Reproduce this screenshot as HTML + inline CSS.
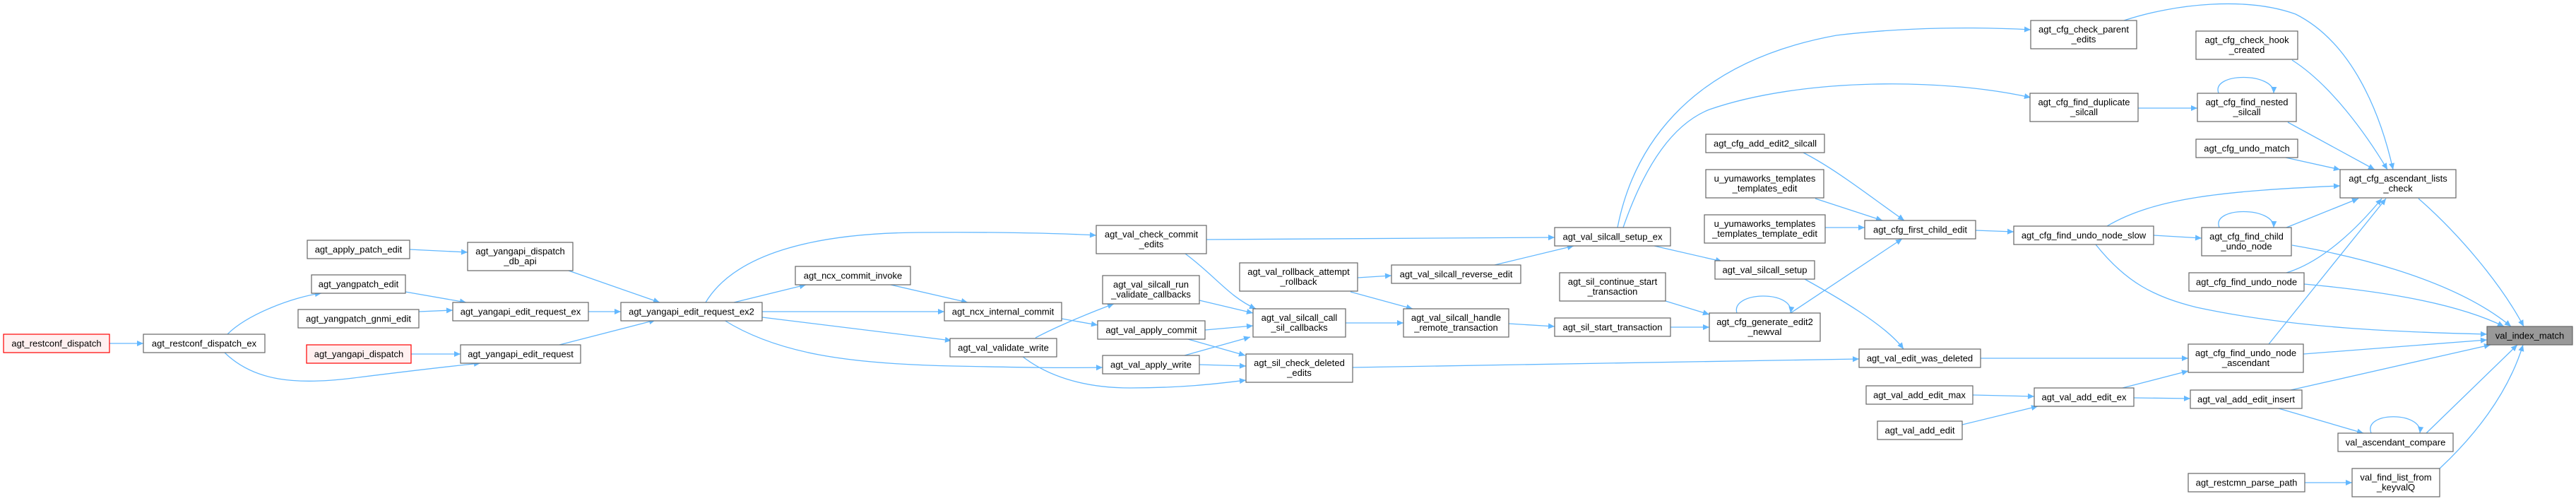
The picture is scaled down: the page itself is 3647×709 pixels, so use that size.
<!DOCTYPE html>
<html><head><meta charset="utf-8"><style>
html,body{margin:0;padding:0;background:#fff;}
svg{display:block;}
text{font-family:"Liberation Sans",Arial,sans-serif;font-size:13px;fill:#000;text-anchor:middle;}
.n{fill:#fff;stroke:#666;stroke-width:1.2;}
.r{fill:#fff0f0;stroke:#f00;stroke-width:1.2;}
.g{fill:#999;stroke:#666;stroke-width:1.2;}
path.e{fill:none;stroke:#63b8ff;stroke-width:1.3;marker-end:url(#a);}
</style></head><body>
<svg width="3647" height="709" viewBox="0 0 3647 709" xmlns="http://www.w3.org/2000/svg">
<defs><marker id="a" viewBox="0 0 10 10" refX="10" refY="5" markerWidth="11" markerHeight="9" markerUnits="userSpaceOnUse" orient="auto"><path d="M0,0.5 L10,5 L0,9.5 z" fill="#63b8ff"/></marker></defs>
<g>
<path class="e" d="M155,486 L203,486"/>
<path class="e" d="M322,473 C350,445 415,420 455,415"/>
<path class="e" d="M318,499 C360,540 420,545 500,535 C580,525 640,518 680,514"/>
<path class="e" d="M580,353 L662,357"/>
<path class="e" d="M574,413 L660,428"/>
<path class="e" d="M593,441 L641,439"/>
<path class="e" d="M582,501 L652,501"/>
<path class="e" d="M805,383 L934,428"/>
<path class="e" d="M833,441 L879,441"/>
<path class="e" d="M792,488 L928,453"/>
<path class="e" d="M1039,428 L1141,403"/>
<path class="e" d="M1079,441 L1337,441"/>
<path class="e" d="M999,428 C1040,360 1150,330 1300,329 C1400,328 1500,330 1552,333"/>
<path class="e" d="M1079,449 L1347,482"/>
<path class="e" d="M1025,453 C1100,500 1200,515 1350,518 C1450,520 1500,521 1561,520"/>
<path class="e" d="M1261,403 L1370,428"/>
<path class="e" d="M1503,451 L1554,460"/>
<path class="e" d="M1466,478 C1500,460 1550,440 1577,430"/>
<path class="e" d="M1447,504 C1480,530 1530,549 1600,549 C1680,549 1730,542 1764,538"/>
<path class="e" d="M1708,339 L2201,336"/>
<path class="e" d="M1678,359 C1720,390 1740,420 1778,437"/>
<path class="e" d="M1698,425 L1774,443"/>
<path class="e" d="M1706,467 L1774,461"/>
<path class="e" d="M1682,480 L1763,503"/>
<path class="e" d="M1677,503 L1770,477"/>
<path class="e" d="M1698,516 L1764,518"/>
<path class="e" d="M1922,393 L1970,390"/>
<path class="e" d="M1912,413 L2000,437"/>
<path class="e" d="M1905,457 L1987,457"/>
<path class="e" d="M2116,375 L2228,348"/>
<path class="e" d="M2136,458 L2201,462"/>
<path class="e" d="M1915,520 L2632,508"/>
<path class="e" d="M2290,322 C2310,220 2380,90 2600,50 C2700,38 2800,38 2875,42"/>
<path class="e" d="M2298,322 C2330,230 2370,175 2420,155 C2550,110 2750,110 2875,138"/>
<path class="e" d="M2342,348 L2438,370"/>
<path class="e" d="M2358,426 L2420,445"/>
<path class="e" d="M2365,463 L2420,463"/>
<path class="e" d="M2459,443 C2450,412 2540,410 2535,443"/>
<path class="e" d="M2535,443 L2693,338"/>
<path class="e" d="M2555,395 C2600,420 2670,460 2695,494"/>
<path class="e" d="M2553,216 C2600,240 2650,280 2696,312"/>
<path class="e" d="M2570,281 L2665,312"/>
<path class="e" d="M2584,322 L2640,322"/>
<path class="e" d="M2797,326 L2851,328"/>
<path class="e" d="M2804,507 L3098,507"/>
<path class="e" d="M2793,559 L2880,561"/>
<path class="e" d="M2778,601 L2885,575"/>
<path class="e" d="M3005,549 L3098,525"/>
<path class="e" d="M3021,563 L3101,564"/>
<path class="e" d="M3007,29 C3080,5 3180,-5 3250,20 C3330,60 3370,160 3388,240"/>
<path class="e" d="M3027,153 L3111,153"/>
<path class="e" d="M3141,132 C3130,102 3220,102 3219,132"/>
<path class="e" d="M3239,173 L3362,240"/>
<path class="e" d="M3245,85 C3300,120 3350,190 3380,240"/>
<path class="e" d="M3236,223 L3313,240"/>
<path class="e" d="M2983,320 C3050,280 3150,270 3313,263"/>
<path class="e" d="M3049,333 L3117,337"/>
<path class="e" d="M2967,346 C3010,400 3050,420 3110,435 C3250,465 3400,470 3521,473"/>
<path class="e" d="M3142,322 C3130,292 3220,292 3219,322"/>
<path class="e" d="M3237,322 L3339,281"/>
<path class="e" d="M3245,347 C3350,365 3480,400 3555,462"/>
<path class="e" d="M3237,386 C3290,370 3340,320 3372,281"/>
<path class="e" d="M3262,402 C3350,410 3470,425 3545,462"/>
<path class="e" d="M3212,487 L3378,281"/>
<path class="e" d="M3261,501 L3521,481"/>
<path class="e" d="M3243,552 L3526,488"/>
<path class="e" d="M3226,578 L3346,613"/>
<path class="e" d="M3357,613 C3345,582 3430,582 3426,613"/>
<path class="e" d="M3435,613 L3564,488"/>
<path class="e" d="M3424,281 C3480,330 3540,400 3573,462"/>
<path class="e" d="M3263,683 L3330,683"/>
<path class="e" d="M3454,663 C3500,620 3550,560 3572,488"/>
</g>
<g>
<rect class="r" x="5" y="473" width="150" height="26"/><text x="80" y="490.5">agt_restconf_dispatch</text>
<rect class="n" x="203" y="473" width="172" height="26"/><text x="289" y="490.5">agt_restconf_dispatch_ex</text>
<rect class="n" x="435" y="340" width="145" height="26"/><text x="507.5" y="357.5">agt_apply_patch_edit</text>
<rect class="n" x="441" y="389" width="133" height="26"/><text x="507.5" y="406.5">agt_yangpatch_edit</text>
<rect class="n" x="422" y="438" width="171" height="26"/><text x="507.5" y="455.5">agt_yangpatch_gnmi_edit</text>
<rect class="r" x="434" y="488" width="148" height="26"/><text x="508" y="505.5">agt_yangapi_dispatch</text>
<rect class="n" x="662" y="343" width="149" height="40"/><text x="736.5" y="360">agt_yangapi_dispatch</text><text x="736.5" y="374">_db_api</text>
<rect class="n" x="641" y="428" width="192" height="26"/><text x="737" y="445.5">agt_yangapi_edit_request_ex</text>
<rect class="n" x="652" y="488" width="170" height="26"/><text x="737" y="505.5">agt_yangapi_edit_request</text>
<rect class="n" x="879" y="428" width="200" height="26"/><text x="979" y="445.5">agt_yangapi_edit_request_ex2</text>
<rect class="n" x="1126" y="377" width="163" height="26"/><text x="1207.5" y="394.5">agt_ncx_commit_invoke</text>
<rect class="n" x="1337" y="428" width="166" height="26"/><text x="1420" y="445.5">agt_ncx_internal_commit</text>
<rect class="n" x="1345" y="479" width="151" height="26"/><text x="1420.5" y="496.5">agt_val_validate_write</text>
<rect class="n" x="1552" y="319" width="156" height="40"/><text x="1630" y="336">agt_val_check_commit</text><text x="1630" y="350">_edits</text>
<rect class="n" x="1561" y="390" width="137" height="40"/><text x="1629.5" y="407">agt_val_silcall_run</text><text x="1629.5" y="421">_validate_callbacks</text>
<rect class="n" x="1554" y="454" width="152" height="26"/><text x="1630" y="471.5">agt_val_apply_commit</text>
<rect class="n" x="1561" y="503" width="137" height="26"/><text x="1629.5" y="520.5">agt_val_apply_write</text>
<rect class="n" x="1755" y="372" width="167" height="40"/><text x="1838.5" y="389">agt_val_rollback_attempt</text><text x="1838.5" y="403">_rollback</text>
<rect class="n" x="1774" y="437" width="131" height="40"/><text x="1839.5" y="454">agt_val_silcall_call</text><text x="1839.5" y="468">_sil_callbacks</text>
<rect class="n" x="1764" y="501" width="151" height="40"/><text x="1839.5" y="518">agt_sil_check_deleted</text><text x="1839.5" y="532">_edits</text>
<rect class="n" x="1970" y="375" width="183" height="26"/><text x="2061.5" y="392.5">agt_val_silcall_reverse_edit</text>
<rect class="n" x="1987" y="437" width="149" height="40"/><text x="2061.5" y="454">agt_val_silcall_handle</text><text x="2061.5" y="468">_remote_transaction</text>
<rect class="n" x="2201" y="322" width="164" height="26"/><text x="2283" y="339.5">agt_val_silcall_setup_ex</text>
<rect class="n" x="2208" y="386" width="150" height="40"/><text x="2283" y="403">agt_sil_continue_start</text><text x="2283" y="417">_transaction</text>
<rect class="n" x="2201" y="450" width="164" height="26"/><text x="2283" y="467.5">agt_sil_start_transaction</text>
<rect class="n" x="2415" y="190" width="168" height="26"/><text x="2499" y="207.5">agt_cfg_add_edit2_silcall</text>
<rect class="n" x="2415" y="240" width="167" height="40"/><text x="2498.5" y="257">u_yumaworks_templates</text><text x="2498.5" y="271">_templates_edit</text>
<rect class="n" x="2413" y="304" width="171" height="40"/><text x="2498.5" y="321">u_yumaworks_templates</text><text x="2498.5" y="335">_templates_template_edit</text>
<rect class="n" x="2428" y="369" width="141" height="26"/><text x="2498.5" y="386.5">agt_val_silcall_setup</text>
<rect class="n" x="2420" y="443" width="157" height="40"/><text x="2498.5" y="460">agt_cfg_generate_edit2</text><text x="2498.5" y="474">_newval</text>
<rect class="n" x="2640" y="312" width="157" height="26"/><text x="2718.5" y="329.5">agt_cfg_first_child_edit</text>
<rect class="n" x="2632" y="494" width="172" height="26"/><text x="2718" y="511.5">agt_val_edit_was_deleted</text>
<rect class="n" x="2642" y="546" width="151" height="26"/><text x="2717.5" y="563.5">agt_val_add_edit_max</text>
<rect class="n" x="2658" y="596" width="120" height="26"/><text x="2718" y="613.5">agt_val_add_edit</text>
<rect class="n" x="2875" y="29" width="150" height="40"/><text x="2950" y="46">agt_cfg_check_parent</text><text x="2950" y="60">_edits</text>
<rect class="n" x="2874" y="132" width="153" height="40"/><text x="2950.5" y="149">agt_cfg_find_duplicate</text><text x="2950.5" y="163">_silcall</text>
<rect class="n" x="2851" y="320" width="198" height="26"/><text x="2950" y="337.5">agt_cfg_find_undo_node_slow</text>
<rect class="n" x="2880" y="549" width="141" height="26"/><text x="2950.5" y="566.5">agt_val_add_edit_ex</text>
<rect class="n" x="3109" y="44" width="144" height="40"/><text x="3181" y="61">agt_cfg_check_hook</text><text x="3181" y="75">_created</text>
<rect class="n" x="3111" y="132" width="140" height="40"/><text x="3181" y="149">agt_cfg_find_nested</text><text x="3181" y="163">_silcall</text>
<rect class="n" x="3109" y="197" width="144" height="26"/><text x="3181" y="214.5">agt_cfg_undo_match</text>
<rect class="n" x="3117" y="322" width="127" height="40"/><text x="3180.5" y="339">agt_cfg_find_child</text><text x="3180.5" y="353">_undo_node</text>
<rect class="n" x="3099" y="386" width="163" height="26"/><text x="3180.5" y="403.5">agt_cfg_find_undo_node</text>
<rect class="n" x="3098" y="487" width="163" height="40"/><text x="3179.5" y="504">agt_cfg_find_undo_node</text><text x="3179.5" y="518">_ascendant</text>
<rect class="n" x="3101" y="552" width="158" height="26"/><text x="3180" y="569.5">agt_val_add_edit_insert</text>
<rect class="n" x="3098" y="670" width="165" height="26"/><text x="3180.5" y="687.5">agt_restcmn_parse_path</text>
<rect class="n" x="3313" y="240" width="164" height="40"/><text x="3395" y="257">agt_cfg_ascendant_lists</text><text x="3395" y="271">_check</text>
<rect class="n" x="3310" y="613" width="163" height="26"/><text x="3391.5" y="630.5">val_ascendant_compare</text>
<rect class="n" x="3330" y="663" width="124" height="40"/><text x="3392" y="680">val_find_list_from</text><text x="3392" y="694">_keyvalQ</text>
<rect class="g" x="3521" y="462" width="121" height="26"/><text x="3581.5" y="479.5">val_index_match</text>
</g>
</svg>
</body></html>
